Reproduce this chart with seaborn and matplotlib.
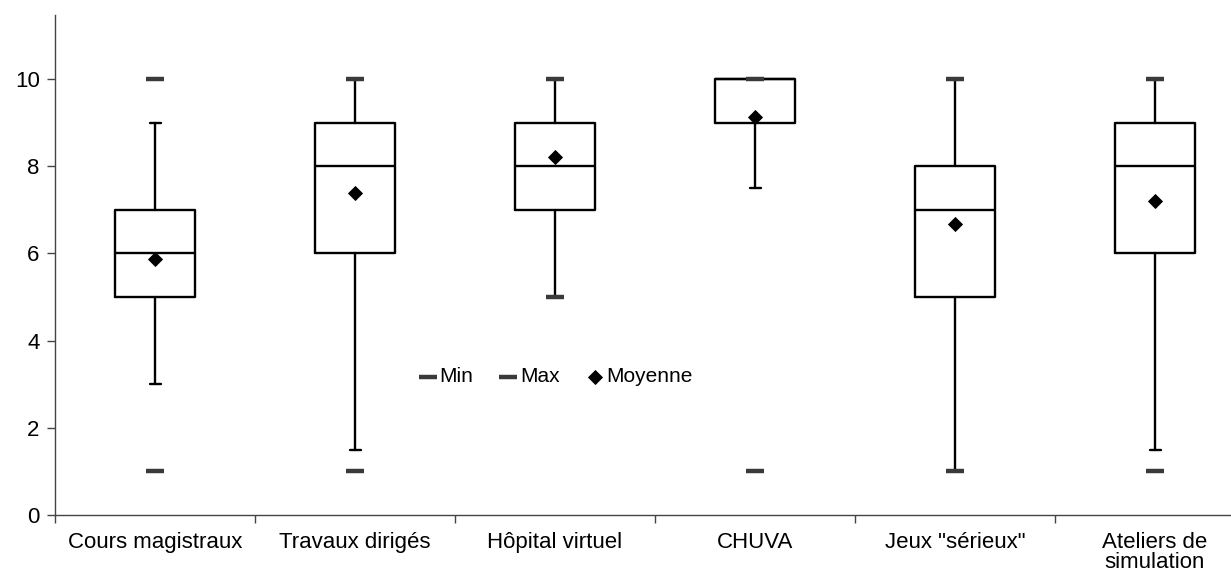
import matplotlib
matplotlib.use("Agg")
import matplotlib.pyplot as plt
import seaborn as sns
import pandas as pd

categories = ["Cours magistraux", "Travaux dirigés", "Hôpital virtuel",
              "CHUVA", "Jeux \"sérieux\"", "Ateliers de\nsimulation"]
q1 = [5, 6, 7, 9, 5, 6]
median = [6, 8, 8, 10, 7, 8]
q3 = [7, 9, 9, 10, 8, 9]
whisker_low = [3, 1.5, 5, 7.5, 1, 1.5]
whisker_high = [9, 10, 10, 10, 10, 10]
minimum = [1, 1, 5, 1, 1, 1]
maximum = [10, 10, 10, 10, 10, 10]
moyenne = [5.88, 7.39, 8.21, 9.14, 6.68, 7.21]

sns.set_style("ticks")
plt.rcParams['font.family'] = ['Liberation Sans', 'DejaVu Sans']
plt.rcParams['text.color'] = "black"
plt.rcParams['xtick.labelcolor'] = "black"
plt.rcParams['ytick.labelcolor'] = "black"

fig = plt.figure(figsize=(12.31, 5.74), dpi=100)
ax = fig.add_axes([55 / 1231, 59 / 574, 1 - 55 / 1231, 500 / 574])

# boxes from the summary stats
stats = []
for i in range(len(categories)):
    stats.append(dict(med=median[i], q1=q1[i], q3=q3[i],
                      whislo=whisker_low[i], whishi=whisker_high[i], fliers=[]))
line = dict(color="black", linewidth=1.7)
ax.bxp(stats, positions=range(len(categories)), widths=0.4, showfliers=False,
       boxprops=line, whiskerprops=line, capprops=line, medianprops=line,
       capwidths=0.055)

df = pd.DataFrame({"pos": range(len(categories)), "min": minimum,
                   "max": maximum, "mean": moyenne})
sns.scatterplot(data=df, x="pos", y="min", marker="_", s=170, linewidth=3.2,
                color="#3a3a3a", label="Min", ax=ax, zorder=4)
sns.scatterplot(data=df, x="pos", y="max", marker="_", s=170, linewidth=3.2,
                color="#3a3a3a", label="Max", ax=ax, zorder=4)
sns.scatterplot(data=df, x="pos", y="mean", marker="D", s=60, color="black",
                edgecolor="black", linewidth=0, label="Moyenne", ax=ax, zorder=5)

ax.set_xlim(-0.5, (1231 - 55) / 200 - 0.5)
ax.set_ylim(0, 11.47)
ax.set_yticks(range(0, 11, 2))
ax.set_xticks([i - 0.5 for i in range(len(categories))])
ax.set_xticklabels([])
ax.set_xticks(range(len(categories)), minor=True)
ax.set_xticklabels(categories, minor=True, fontsize=16, va="top")
for lbl in ax.get_xticklabels(minor=True):
    lbl.set_linespacing(0.95)
ax.tick_params(axis="x", which="minor", length=0, pad=12)
ax.tick_params(axis="x", which="major", length=6, width=1, color="#444444")
ax.tick_params(axis="y", length=6, width=1, color="#444444", labelsize=16, pad=5)
ax.set_xlabel("")
ax.set_ylabel("")
for s in ["top", "right"]:
    ax.spines[s].set_visible(False)
for s in ["left", "bottom"]:
    ax.spines[s].set_color("#444444")
    ax.spines[s].set_linewidth(1)

ax.legend(loc="center", bbox_to_anchor=(556 / 1231, 1 - 377 / 574),
          bbox_transform=fig.transFigure, ncol=3, frameon=False, fontsize=15,
          handletextpad=0.15, columnspacing=1.3, handlelength=0.8)

fig.savefig("out.png", dpi=100)
